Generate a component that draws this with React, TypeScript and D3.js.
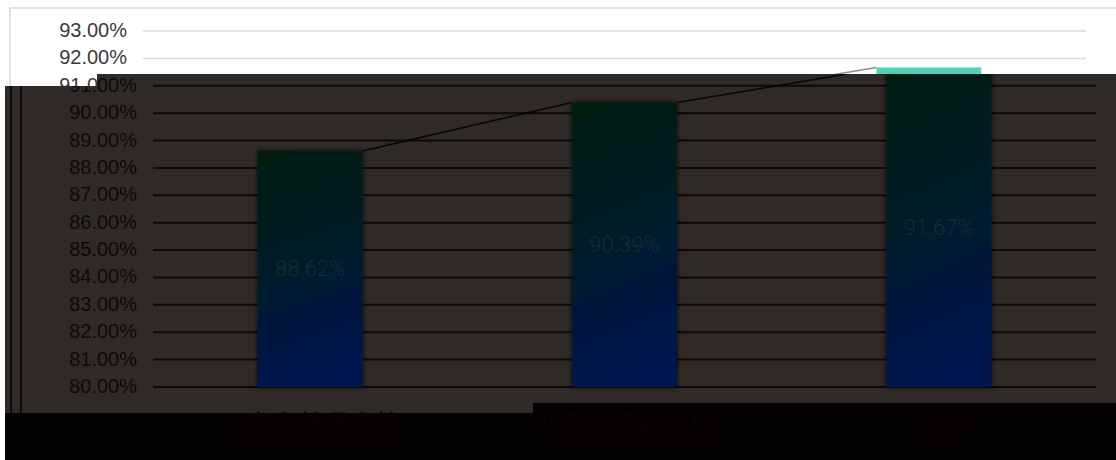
import React from "react";
import * as d3 from "d3";

const categories = ["湖南省普通高校", "湖南省高职院校", "全国"];
const values = [88.62, 90.39, 91.67];
const yTicks = [80, 81, 82, 83, 84, 85, 86, 87, 88, 89, 90, 91, 92, 93];

const W = 1116;
const H = 460;
const SHIFT = 10;

export default function App() {
  const x = d3.scaleBand<string>().domain(categories).range([143, 1086]).paddingInner(0).paddingOuter(0);
  const y = d3.scaleLinear().domain([80, 93]).range([387, 31]);
  const bw = x.bandwidth() / 3;
  const barX = (c: string) => (x(c) as number) + x.bandwidth() / 2 - bw / 2;
  const fmt = (v: number) => v.toFixed(2) + "%";

  const connectors = values.slice(0, -1).map((v, i) => ({
    x1: barX(categories[i]) + bw,
    y1: y(v),
    x2: barX(categories[i + 1]),
    y2: y(values[i + 1]),
  }));

  const chart = (dark: boolean) => (
    <g>
      {yTicks.map((t) => (
        <g key={"t" + t}>
          <line x1={143} x2={1086} y1={y(t)} y2={y(t)} stroke={dark ? "#0c0908" : "#d9d9d9"} strokeWidth={dark ? 2 : 1.5} />
          {((dark && t <= 91) || (!dark && t >= 91)) && (
            <text x={127} y={y(t) - 1} textAnchor="end" dominantBaseline="central" fontFamily="'Liberation Sans', Arial, sans-serif" fontSize={20} fill={dark ? "#0d0a09" : "#3a3a3a"}>
              {fmt(t)}
            </text>
          )}
        </g>
      ))}
      {categories.map((c, i) => (
        <rect key={"b" + c} x={barX(c)} y={y(values[i])} width={bw} height={y(80) - y(values[i])} fill={dark ? "url(#darkGrad)" : "url(#lightGrad)"} filter={dark ? "url(#shadow)" : undefined} />
      ))}
      {connectors.map((l, i) => (
        <line key={"l" + i} x1={l.x1} y1={l.y1} x2={l.x2} y2={l.y2} stroke={dark ? "#050403" : "#8e8e8e"} strokeWidth={1.5} />
      ))}
      {dark &&
        categories.map((c, i) => (
          <text key={"v" + c} x={barX(c) + bw / 2} y={(y(values[i]) + y(80)) / 2} textAnchor="middle" dominantBaseline="central" fontFamily="Roboto, 'Liberation Sans', sans-serif" fontWeight={300} fontSize={22} fill="#142c33">
            {fmt(values[i])}
          </text>
        ))}
    </g>
  );

  return (
    <svg width={W} height={H} style={{ position: "absolute", left: 0, top: 0, display: "block" }}>
      <defs>
        <linearGradient id="lightGrad" x1="0" y1="0" x2="0" y2="1">
          <stop offset="0" stopColor="#55d0bb" />
          <stop offset="1" stopColor="#2f6fd0" />
        </linearGradient>
        <linearGradient id="darkGrad" x1="0" y1="0" x2="0.15" y2="1">
          <stop offset="0" stopColor="#011f0e" />
          <stop offset="0.5" stopColor="#011e28" />
          <stop offset="1" stopColor="#01124f" />
        </linearGradient>
        <filter id="shadow" x="-20%" y="-20%" width="140%" height="140%">
          <feDropShadow dx="0" dy="0" stdDeviation="2.5" floodColor="#000" floodOpacity="0.9" />
        </filter>
        <clipPath id="overlayClip">
          <rect x={97} y={74} width={W - 97} height={12} />
          <rect x={5} y={86} width={W - 5} height={327} />
        </clipPath>
      </defs>
      <rect x={0} y={0} width={W} height={H} fill="#ffffff" />
      <rect x={10} y={8} width={W + 20} height={H} fill="none" stroke="#d9d9d9" strokeWidth={1.5} />
      {chart(false)}
      <g clipPath="url(#overlayClip)">
        <rect x={0} y={0} width={W} height={H} fill="#2f2a27" />
        <line x1={11} x2={11} y1={0} y2={H} stroke="#0b0908" strokeWidth={2} />
        <g transform={`translate(${SHIFT},0)`}>
          <line x1={11} x2={11} y1={0} y2={H} stroke="#0b0908" strokeWidth={2} />
          {chart(true)}
        </g>
      </g>
      <rect x={5} y={413} width={W - 5} height={H - 413} fill="#030101" />
      <rect x={533} y={403} width={W - 533} height={H - 403} fill="#030101" />
      {categories.map((c) => (
        <text key={"c" + c} x={(x(c) as number) + x.bandwidth() / 2 + SHIFT} y={434} textAnchor="middle" fontFamily="'Noto Sans CJK SC', sans-serif" fontSize={26} fill="#0d0202">
          {c}
        </text>
      ))}
    </svg>
  );
}
